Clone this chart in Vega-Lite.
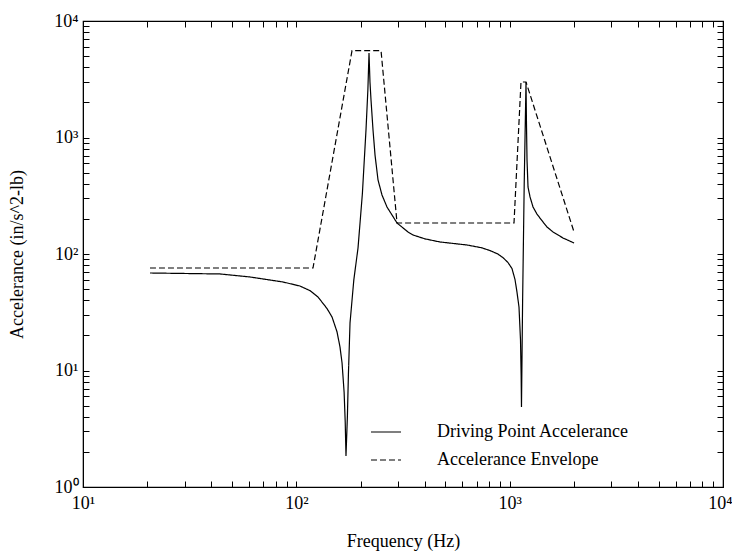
{
  "$schema": "https://vega.github.io/schema/vega-lite/v6.json",
  "width": 640,
  "height": 466,
  "autosize": "none",
  "padding": {"left": 83, "top": 21, "right": 9, "bottom": 64},
  "background": "white",
  "config": {
    "view": {"stroke": "black", "strokeWidth": 1.2},
    "font": "Liberation Serif",
    "axis": {"labelFont": "Liberation Serif", "titleFont": "Liberation Serif", "labelColor": "black", "titleColor": "black", "domainColor": "black", "tickColor": "black", "grid": false, "titleFontWeight": "normal"},
    "legend": {"labelFont": "Liberation Serif"}
  },
  "data": {
    "values": [
      {"f": 20.6, "a": 68.7, "s": "Driving Point Accelerance"},
      {"f": 43.9, "a": 67.4, "s": "Driving Point Accelerance"},
      {"f": 60.7, "a": 63.5, "s": "Driving Point Accelerance"},
      {"f": 86.6, "a": 57.5, "s": "Driving Point Accelerance"},
      {"f": 104.0, "a": 53.1, "s": "Driving Point Accelerance"},
      {"f": 115.9, "a": 48.5, "s": "Driving Point Accelerance"},
      {"f": 126.4, "a": 42.7, "s": "Driving Point Accelerance"},
      {"f": 139.3, "a": 34.0, "s": "Driving Point Accelerance"},
      {"f": 147.0, "a": 28.8, "s": "Driving Point Accelerance"},
      {"f": 155.1, "a": 21.5, "s": "Driving Point Accelerance"},
      {"f": 160.2, "a": 15.9, "s": "Driving Point Accelerance"},
      {"f": 163.8, "a": 11.6, "s": "Driving Point Accelerance"},
      {"f": 167.5, "a": 6.5, "s": "Driving Point Accelerance"},
      {"f": 169.5, "a": 3.6, "s": "Driving Point Accelerance"},
      {"f": 170.9, "a": 1.85, "s": "Driving Point Accelerance"},
      {"f": 173.5, "a": 4.0, "s": "Driving Point Accelerance"},
      {"f": 175.5, "a": 9.5, "s": "Driving Point Accelerance"},
      {"f": 178.5, "a": 25.6, "s": "Driving Point Accelerance"},
      {"f": 186.0, "a": 60.0, "s": "Driving Point Accelerance"},
      {"f": 194.6, "a": 112.6, "s": "Driving Point Accelerance"},
      {"f": 204.0, "a": 330, "s": "Driving Point Accelerance"},
      {"f": 212.1, "a": 1160, "s": "Driving Point Accelerance"},
      {"f": 216.5, "a": 2600, "s": "Driving Point Accelerance"},
      {"f": 219.1, "a": 5312, "s": "Driving Point Accelerance"},
      {"f": 221.4, "a": 3000, "s": "Driving Point Accelerance"},
      {"f": 223.9, "a": 2099, "s": "Driving Point Accelerance"},
      {"f": 228.8, "a": 1160, "s": "Driving Point Accelerance"},
      {"f": 233.8, "a": 707.6, "s": "Driving Point Accelerance"},
      {"f": 241.5, "a": 432, "s": "Driving Point Accelerance"},
      {"f": 252.1, "a": 320.9, "s": "Driving Point Accelerance"},
      {"f": 266.1, "a": 253, "s": "Driving Point Accelerance"},
      {"f": 296.5, "a": 184.5, "s": "Driving Point Accelerance"},
      {"f": 333.8, "a": 154.5, "s": "Driving Point Accelerance"},
      {"f": 352.4, "a": 145.6, "s": "Driving Point Accelerance"},
      {"f": 400.0, "a": 135.0, "s": "Driving Point Accelerance"},
      {"f": 471.6, "a": 126.8, "s": "Driving Point Accelerance"},
      {"f": 631, "a": 119.5, "s": "Driving Point Accelerance"},
      {"f": 740, "a": 113.0, "s": "Driving Point Accelerance"},
      {"f": 808.9, "a": 107.0, "s": "Driving Point Accelerance"},
      {"f": 880, "a": 100.0, "s": "Driving Point Accelerance"},
      {"f": 930.8, "a": 93.0, "s": "Driving Point Accelerance"},
      {"f": 982, "a": 84.5, "s": "Driving Point Accelerance"},
      {"f": 1025.4, "a": 75.0, "s": "Driving Point Accelerance"},
      {"f": 1059, "a": 60.5, "s": "Driving Point Accelerance"},
      {"f": 1082, "a": 47.2, "s": "Driving Point Accelerance"},
      {"f": 1106, "a": 35.0, "s": "Driving Point Accelerance"},
      {"f": 1124, "a": 18.3, "s": "Driving Point Accelerance"},
      {"f": 1132, "a": 9.0, "s": "Driving Point Accelerance"},
      {"f": 1136, "a": 4.86, "s": "Driving Point Accelerance"},
      {"f": 1150, "a": 40, "s": "Driving Point Accelerance"},
      {"f": 1170, "a": 400, "s": "Driving Point Accelerance"},
      {"f": 1193, "a": 2995, "s": "Driving Point Accelerance"},
      {"f": 1199, "a": 1300, "s": "Driving Point Accelerance"},
      {"f": 1206, "a": 641, "s": "Driving Point Accelerance"},
      {"f": 1219, "a": 376, "s": "Driving Point Accelerance"},
      {"f": 1246, "a": 308.6, "s": "Driving Point Accelerance"},
      {"f": 1287, "a": 253, "s": "Driving Point Accelerance"},
      {"f": 1343, "a": 220, "s": "Driving Point Accelerance"},
      {"f": 1418, "a": 193.0, "s": "Driving Point Accelerance"},
      {"f": 1496, "a": 170.6, "s": "Driving Point Accelerance"},
      {"f": 1597, "a": 154.5, "s": "Driving Point Accelerance"},
      {"f": 1778, "a": 137.2, "s": "Driving Point Accelerance"},
      {"f": 2003, "a": 124.3, "s": "Driving Point Accelerance"},
      {"f": 20.6, "a": 75.8, "s": "Accelerance Envelope"},
      {"f": 119.7, "a": 75.8, "s": "Accelerance Envelope"},
      {"f": 182.4, "a": 5561, "s": "Accelerance Envelope"},
      {"f": 249.5, "a": 5561, "s": "Accelerance Envelope"},
      {"f": 296.5, "a": 184.5, "s": "Accelerance Envelope"},
      {"f": 1047.9, "a": 184.5, "s": "Accelerance Envelope"},
      {"f": 1130, "a": 2995, "s": "Accelerance Envelope"},
      {"f": 1193, "a": 2995, "s": "Accelerance Envelope"},
      {"f": 2003, "a": 154.5, "s": "Accelerance Envelope"}
    ]
  },
  "layer": [
    {
      "mark": {"type": "line", "color": "black", "strokeWidth": 1.2, "clip": true},
      "encoding": {
        "x": {
          "field": "f", "type": "quantitative",
          "scale": {"type": "log", "domain": [10, 10000], "nice": false},
          "axis": {
            "orient": "bottom",
            "title": "Frequency  (Hz)",
            "titleFontSize": 18,
            "titlePadding": 20,
            "labelFontSize": 18,
            "tickSize": -6,
            "labelPadding": 13,
            "labelOverlap": false,
            "labelBound": false,
            "labelFlush": false,
            "labelAlign": {"condition": {"test": "datum.value == 10000", "value": "right"}, "value": "center"},
            "labelOffset": {"condition": {"test": "datum.value == 10000", "value": 9}, "value": 0},
            "values": [10,20,30,40,50,60,70,80,90,100,200,300,400,500,600,700,800,900,1000,2000,3000,4000,5000,6000,7000,8000,9000,10000],
            "labelExpr": "datum.value == 10 ? '10¹' : datum.value == 100 ? '10²' : datum.value == 1000 ? '10³' : datum.value == 10000 ? '10⁴' : ''"
          }
        },
        "y": {
          "field": "a", "type": "quantitative",
          "scale": {"type": "log", "domain": [1, 10000], "nice": false},
          "axis": {
            "orient": "left",
            "title": "Accelerance  (in/s^2-lb)",
            "titleFontSize": 18,
            "titlePadding": 27,
            "labelFontSize": 18,
            "tickSize": -6,
            "labelPadding": 11,
            "labelOverlap": false,
            "labelBound": false,
            "labelFlush": false,
            "values": [1,2,3,4,5,6,7,8,9,10,20,30,40,50,60,70,80,90,100,200,300,400,500,600,700,800,900,1000,2000,3000,4000,5000,6000,7000,8000,9000,10000],
            "labelExpr": "datum.value == 1 ? '10⁰' : datum.value == 10 ? '10¹' : datum.value == 100 ? '10²' : datum.value == 1000 ? '10³' : datum.value == 10000 ? '10⁴' : ''"
          }
        },
        "strokeDash": {
          "field": "s", "type": "nominal",
          "scale": {"domain": ["Driving Point Accelerance", "Accelerance Envelope"], "range": [[1, 0], [6, 3]]},
          "legend": {
            "title": null,
            "orient": "none",
            "legendX": 287,
            "legendY": 395,
            "padding": 0,
            "symbolType": "stroke",
            "symbolSize": 900,
            "symbolStrokeWidth": 1.2,
            "symbolStrokeColor": "black",
            "labelFontSize": 18,
            "labelColor": "black",
            "labelOffset": 35,
            "rowPadding": 3,
            "labelLimit": 400
          }
        }
      }
    },
    {
      "mark": {"type": "line", "opacity": 0},
      "encoding": {
        "x": {
          "field": "f", "type": "quantitative",
          "scale": {"type": "log", "domain": [10, 10000], "nice": false},
          "axis": {
            "orient": "top", "title": null, "labels": false, "tickSize": -6,
            "values": [10,20,30,40,50,60,70,80,90,100,200,300,400,500,600,700,800,900,1000,2000,3000,4000,5000,6000,7000,8000,9000,10000]
          }
        },
        "y": {
          "field": "a", "type": "quantitative",
          "scale": {"type": "log", "domain": [1, 10000], "nice": false},
          "axis": {
            "orient": "right", "title": null, "labels": false, "tickSize": -6,
            "values": [1,2,3,4,5,6,7,8,9,10,20,30,40,50,60,70,80,90,100,200,300,400,500,600,700,800,900,1000,2000,3000,4000,5000,6000,7000,8000,9000,10000]
          }
        }
      }
    }
  ],
  "resolve": {"axis": {"x": "independent", "y": "independent"}}
}
